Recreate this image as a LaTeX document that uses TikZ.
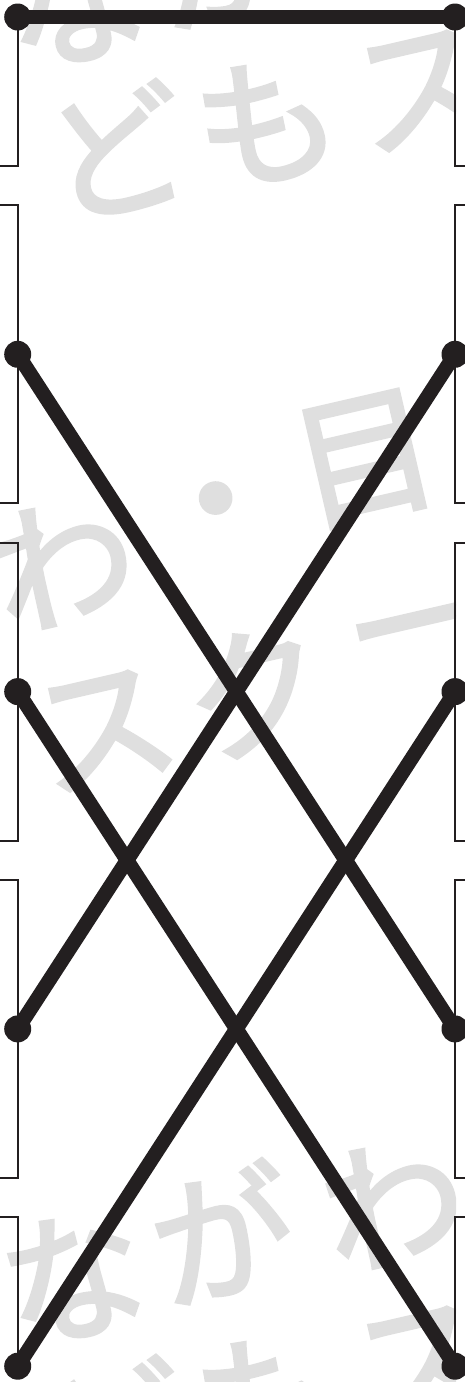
\documentclass[tikz,border=0pt]{standalone}
\usepackage{fontspec}
\newfontfamily\jpfont[FakeBold=2.5]{Noto Sans CJK JP}
\definecolor{ink}{HTML}{231F20}
\definecolor{wmgrey}{HTML}{DFDFDF}

\begin{document}
\begin{tikzpicture}[x=1pt, y=-1pt,
	rail/.style={line width=1.8pt, color=ink},
	bar/.style={line width=14.5pt, color=ink},
	wm/.style={text=wmgrey, font=\jpfont\fontsize{142}{142}\selectfont, rotate=13, inner sep=0pt}]
	\useasboundingbox (0,0) rectangle (465,1382);
	% faint watermark behind everything
	\begin{scope}
		\clip (0,0) rectangle (456,1382);
		\foreach \c/\x/\y [count=\k] in {な/73/1, が/222/-44, ど/116/151, も/266/122, ス/424/90,
			わ/63/563, ・/220/517, 目/365/459, ス/105/730, ク/255/692, ー/420/643,
			な/73/1277, が/222/1232, わ/393/1203, ど/116/1427, も/266/1398, ス/424/1366}
			{ \node[wm] (wm\k) at (\x,\y) {\c}; }
	\end{scope}
	% terminals on both sides
	\foreach \i in {0,...,4} {
		\coordinate (L\i) at (17.7, 17+337.3*\i);
		\coordinate (R\i) at (455, 17+337.3*\i);
	}
	% thin rails with hooks
	\draw[rail] (0,166) -| (L0);
	\draw[rail] (465,166) -| (R0);
	\foreach \i in {1,2,3} {
		\draw[rail] (0,{17+337.3*\i-149}) -| (L\i) |- (0,{17+337.3*\i+149});
		\draw[rail] (465,{17+337.3*\i-149}) -| (R\i) |- (465,{17+337.3*\i+149});
	}
	\draw[rail] (0,1217) -| (L4);
	\draw[rail] (465,1217) -| (R4);
	% thick links
	\draw[bar] (L0) -- (R0);
	\draw[bar] (L1) -- (R3);
	\draw[bar] (R1) -- (L3);
	\draw[bar] (L2) -- (R4);
	\draw[bar] (R2) -- (L4);
	\foreach \n in {L0,L1,L2,L3,L4,R0,R1,R2,R3,R4} { \fill[ink] (\n) circle (13.5pt); }
\end{tikzpicture}
\end{document}
